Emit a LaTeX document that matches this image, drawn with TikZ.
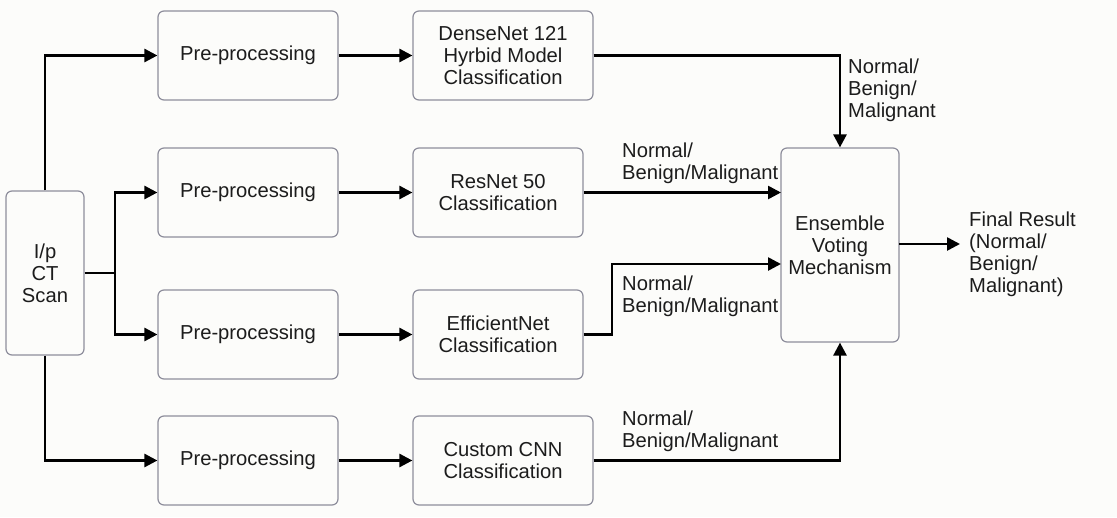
\documentclass[tikz,border=0pt]{standalone}
\usepackage{fontspec}
\setmainfont{Liberation Sans}
\usetikzlibrary{arrows.meta}
\definecolor{bg}{HTML}{FCFCFA}
\definecolor{bordc}{HTML}{8E8E9C}
\definecolor{txt}{HTML}{1C1C1C}
\begin{document}
\begin{tikzpicture}[x=1pt,y=-1pt,
  box/.style={draw=bordc,line width=1.2pt,rounded corners=6pt,fill=bg,inner sep=0pt,
    align=center,text=txt,font=\fontsize{20.2}{22}\selectfont},
  lbl/.style={inner sep=0pt,align=left,text=txt,anchor=west,font=\fontsize{20.2}{22}\selectfont},
  conn/.style={line width=2.6pt,-{Triangle[length=13pt,width=13pt]}},
  plain/.style={line width=2.6pt}]
\fill[bg] (0,0) rectangle (1117,517);
\useasboundingbox (0,0) rectangle (1117,517);
% input
\node[box,minimum width=78pt,minimum height=164pt] (in) at (45,273) {I/p\\CT\\Scan};
% pre-processing
\node[box,minimum width=180pt,minimum height=89pt] (p1) at (248,55.5) {Pre-processing};
\node[box,minimum width=180pt,minimum height=89pt] (p2) at (248,192.5) {Pre-processing};
\node[box,minimum width=180pt,minimum height=89pt] (p3) at (248,334.5) {Pre-processing};
\node[box,minimum width=180pt,minimum height=89pt] (p4) at (248,460.5) {Pre-processing};
% classifiers
\node[box,minimum width=180pt,minimum height=89pt] (c1) at (503,55.5) {DenseNet 121\\Hyrbid Model\\Classification};
\node[box,minimum width=170pt,minimum height=89pt] (c2) at (498,192.5) {ResNet 50\\Classification};
\node[box,minimum width=170pt,minimum height=89pt] (c3) at (498,334.5) {EfficientNet\\Classification};
\node[box,minimum width=180pt,minimum height=89pt] (c4) at (503,460.5) {Custom CNN\\Classification};
% ensemble
\node[box,minimum width=118pt,minimum height=194pt] (e) at (840,245) {Ensemble\\Voting\\Mechanism};
% labels
\node[lbl] (l1) at (848,90) {Normal/\\Benign/\\Malignant};
\node[lbl] (l2) at (622,163) {Normal/\\Benign/Malignant};
\node[lbl] (l3) at (622,296) {Normal/\\Benign/Malignant};
\node[lbl] (l4) at (622,431) {Normal/\\Benign/Malignant};
\node[lbl] (fr) at (969,254) {Final Result\\(Normal/\\Benign/\\Malignant)};
% coordinates
\coordinate (br) at (115,273);
\coordinate (k3) at (612,334.5);
\coordinate (ein2) at (781,192.5);
\coordinate (ein3) at (781,264);
\coordinate (eout) at (899,244);
\coordinate (fend) at (960,244);
% connectors
\draw[conn] (in.north) |- (p1.west);
\draw[conn] (in.south) |- (p4.west);
\draw[plain] (in.east |- br) -- (br);
\draw[conn] (br) |- (p2.west);
\draw[conn] (br) |- (p3.west);
\draw[conn] (p1.east) -- (c1.west);
\draw[conn] (p2.east) -- (c2.west);
\draw[conn] (p3.east) -- (c3.west);
\draw[conn] (p4.east) -- (c4.west);
\draw[conn] (c1.east) -| (e.north);
\draw[conn] (c2.east) -- (ein2);
\draw[conn] (c3.east) -- (k3) |- (ein3);
\draw[conn] (c4.east) -| (e.south);
\draw[conn] (eout) -- (fend);
\end{tikzpicture}
\end{document}
